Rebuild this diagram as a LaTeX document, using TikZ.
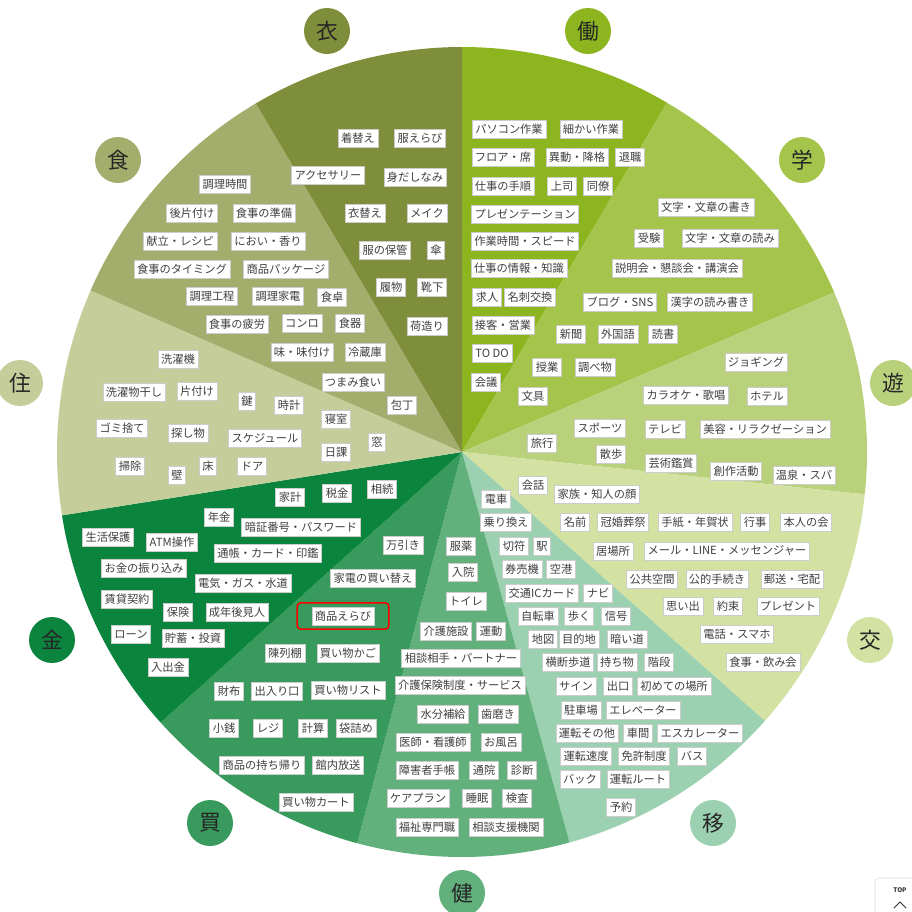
\documentclass[tikz,border=0pt]{standalone}
\usepackage{fontspec}
\newfontfamily\jp{Noto Sans CJK JP}
\usetikzlibrary{fit}
\definecolor{kiru}{HTML}{7F8E3A}
\definecolor{hataraku}{HTML}{8DB51F}
\definecolor{manabu}{HTML}{A5C44C}
\definecolor{asobu}{HTML}{BAD17C}
\definecolor{majiwaru}{HTML}{D3E1A2}
\definecolor{utsuru}{HTML}{9BD0B0}
\definecolor{kenkou}{HTML}{62B07C}
\definecolor{kau}{HTML}{389A5D}
\definecolor{okane}{HTML}{0B843D}
\definecolor{sumu}{HTML}{C5CD9B}
\definecolor{taberu}{HTML}{A4AE6C}

\begin{document}
\begin{tikzpicture}[x=0.25mm, y=-0.25mm,
  koumoku/.style={draw=black!20, line width=0.4pt, fill=white, text=black!75,
    font=\jp\fontsize{8}{8}\selectfont, inner xsep=2.2pt, inner ysep=0pt, minimum height=4.6mm},
  bunrui/.style={circle, inner sep=0pt, minimum size=11.5mm, text=black!85,
    font=\jp\fontsize{15.5}{15.5}\selectfont},
  akawaku/.style={draw=red, line width=1.1pt, rounded corners=2.5pt, inner xsep=3.6mm, inner ysep=0.9mm}]
  \useasboundingbox (0,0) rectangle (912,912); %画面
  \coordinate (O) at (462,452); %中心
  \foreach \a/\b/\c in {0/30.4/hataraku, 30.4/66.8/manabu, 66.8/96/asobu, 96/131.6/majiwaru,
      131.6/164.6/utsuru, 164.6/195/kenkou, 195/228.1/kau, 228.1/261/okane,
      261/293.5/sumu, 293.5/329.4/taberu, 329.4/360/kiru}
    \fill[\c] (O) -- +(\a-90:405) arc[start angle=\a-90, end angle=\b-90, radius=405] -- cycle; %扇形
  % 分類の丸
  \node[bunrui, fill=kiru] (c-kiru) at (327,31) {衣};
  \node[bunrui, fill=hataraku] (c-hataraku) at (588,31) {働};
  \node[bunrui, fill=manabu] (c-manabu) at (802,160) {学};
  \node[bunrui, fill=asobu] (c-asobu) at (893,383) {遊};
  \node[bunrui, fill=majiwaru] (c-majiwaru) at (870,640) {交};
  \node[bunrui, fill=utsuru] (c-utsuru) at (713,823) {移};
  \node[bunrui, fill=kenkou] (c-kenkou) at (462,893) {健};
  \node[bunrui, fill=kau] (c-kau) at (210,823) {買};
  \node[bunrui, fill=okane] (c-okane) at (52,640) {金};
  \node[bunrui, fill=sumu] (c-sumu) at (20,383) {住};
  \node[bunrui, fill=taberu] (c-taberu) at (118,160) {食};
  % 衣
  \foreach \x/\y/\t [count=\i] in {358/138/着替え, 420/138/服えらび, 328/175/アクセサリー,
      415/177/身だしなみ, 365/213/衣替え, 427/213/メイク, 385/250/服の保管, 436/250/傘,
      391/287/履物, 432/287/靴下, 427/326/荷造り}
    \node[koumoku] (kiru\i) at (\x,\y) {\t};
  % 働
  \foreach \x/\y/\t [count=\i] in {509/129/パソコン作業, 591/129/細かい作業, 503/157/フロア・席,
      577/157/異動・降格, 630/157/退職, 503/186/仕事の手順, 562/186/上司, 598/186/同僚,
      525/214/プレゼンテーション, 525/241/作業時間・スピード, 519/268/仕事の情報・知識,
      487/297/求人, 530/297/名刺交換, 503/325/接客・営業, 492/353/TO DO, 486/382/会議}
    \node[koumoku] (hataraku\i) at (\x,\y) {\t};
  % 学
  \foreach \x/\y/\t [count=\i] in {706/207/文字・文章の書き, 649/238/受験, 730/238/文字・文章の読み,
      677/268/説明会・懇談会・講演会, 620/302/ブログ・SNS, 710/302/漢字の読み書き,
      571/334/新聞, 618/334/外国語, 663/334/読書, 547/367/授業, 595/367/調べ物, 533/396/文具}
    \node[koumoku] (manabu\i) at (\x,\y) {\t};
  % 遊
  \foreach \x/\y/\t [count=\i] in {756/362/ジョギング, 686/395/カラオケ・歌唱, 767/396/ホテル,
      600/428/スポーツ, 665/429/テレビ, 765/429/美容・リラクゼーション, 542/443/旅行,
      611/454/散歩, 671/463/芸術鑑賞, 736/471/創作活動, 804/475/温泉・スパ}
    \node[koumoku] (asobu\i) at (\x,\y) {\t};
  % 交
  \foreach \x/\y/\t [count=\i] in {533/485/会話, 597/494/家族・知人の顔, 575/522/名前,
      623/522/冠婚葬祭, 695/522/手紙・年賀状, 755/522/行事, 806/522/本人の会, 613/551/居場所,
      727/551/メール・LINE・メッセンジャー, 652/579/公共空間, 717/579/公的手続き,
      792/579/郵送・宅配, 683/606/思い出, 728/606/約束, 788/606/プレゼント,
      737/634/電話・スマホ, 763/662/食事・飲み会}
    \node[koumoku] (majiwaru\i) at (\x,\y) {\t};
  % 移
  \foreach \x/\y/\t [count=\i] in {496/499/電車, 506/522/乗り換え, 514/546/切符, 542/546/駅,
      522/569/券売機, 561/569/空港, 542/593/交通ICカード, 598/593/ナビ, 538/616/自転車,
      579/616/歩く, 616/616/信号, 543/639/地図, 579/639/目的地, 627/639/暗い道,
      568/662/横断歩道, 617/662/持ち物, 659/662/階段, 576/686/サイン, 618/686/出口,
      674/686/初めての場所, 581/710/駐車場, 643/710/エレベーター, 587/733/運転その他,
      638/733/車間, 700/733/エスカレーター, 586/756/運転速度, 644/756/免許制度, 692/756/バス,
      580/779/バック, 638/779/運転ルート, 621/807/予約}
    \node[koumoku] (utsuru\i) at (\x,\y) {\t};
  % 健
  \foreach \x/\y/\t [count=\i] in {461/546/服薬, 463/572/入院, 466/601/トイレ, 446/631/介護施設,
      491/631/運動, 461/658/相談相手・パートナー, 460/685/介護保険制度・サービス,
      443/714/水分補給, 498/714/歯磨き, 433/742/医師・看護師, 501/742/お風呂,
      427/770/障害者手帳, 484/770/通院, 522/770/診断, 418/798/ケアプラン, 477/798/睡眠,
      517/798/検査, 427/827/福祉専門職, 506/827/相談支援機関}
    \node[koumoku] (kenkou\i) at (\x,\y) {\t};
  % 買
  \foreach \x/\y/\t [count=\i] in {403/545/万引き, 373/578/家電の買い替え, 343/616/商品えらび,
      285/653/陳列棚, 348/653/買い物かご, 229/691/財布, 277/691/出入り口, 348/690/買い物リスト,
      224/728/小銭, 268/728/レジ, 313/728/計算, 356/728/袋詰め, 262/765/商品の持ち帰り,
      338/765/館内放送, 316/802/買い物カート}
    \node[koumoku] (kau\i) at (\x,\y) {\t};
  \node[akawaku, fit=(kau3)] (erabi) {}; %赤枠
  % 金
  \foreach \x/\y/\t [count=\i] in {290/497/家計, 337/493/税金, 382/489/相続, 219/517/年金,
      301/527/暗証番号・パスワード, 108/537/生活保護, 172/542/ATM操作,
      268/553/通帳・カード・印鑑, 144/568/お金の振り込み, 243/583/電気・ガス・水道,
      127/599/賃貸契約, 178/612/保険, 237/612/成年後見人, 131/634/ローン,
      193/638/貯蓄・投資, 168/667/入出金}
    \node[koumoku] (okane\i) at (\x,\y) {\t};
  % 住
  \foreach \x/\y/\t [count=\i] in {178/359/洗濯機, 134/392/洗濯物干し, 197/391/片付け, 247/401/鍵,
      289/405/時計, 336/419/寝室, 122/428/ゴミ捨て, 188/433/探し物, 265/438/スケジュール,
      377/442/窓, 336/452/日課, 130/466/掃除, 177/475/壁, 208/466/床, 252/466/ドア}
    \node[koumoku] (sumu\i) at (\x,\y) {\t};
  % 食
  \foreach \x/\y/\t [count=\i] in {225/184/調理時間, 192/213/後片付け, 264/213/食事の準備,
      180/241/献立・レシピ, 268/241/におい・香り, 182/269/食事のタイミング,
      286/269/商品パッケージ, 212/296/調理工程, 278/296/調理家電, 332/297/食卓,
      237/324/食事の疲労, 302/323/コンロ, 350/323/食器, 302/352/味・味付け, 365/352/冷蔵庫,
      353/382/つまみ食い, 402/405/包丁}
    \node[koumoku] (taberu\i) at (\x,\y) {\t};
  % TOPボタン
  \draw[draw=black!15, fill=white, rounded corners=3pt] (875,878) rectangle (935,935);
  \node[font=\jp\bfseries\fontsize{4.5}{4.5}\selectfont, text=black!80] (top) at (900,890) {TOP};
  \draw[black!80, line width=0.6pt] (894,908) -- (900,902) -- (906,908);
\end{tikzpicture}
\end{document}
